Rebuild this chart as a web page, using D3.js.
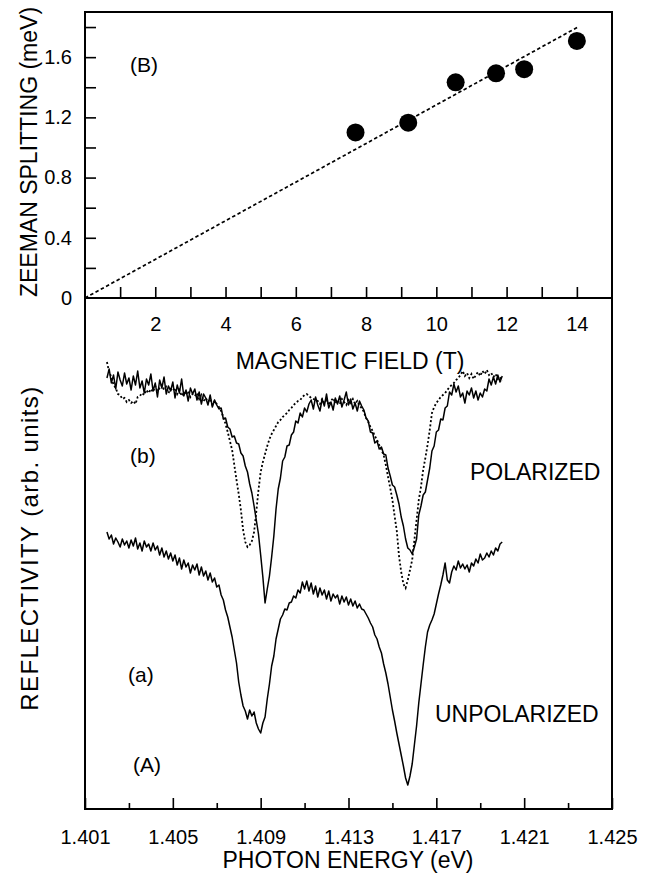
<!DOCTYPE html>
<html>
<head>
<meta charset="utf-8">
<script src="https://cdn.jsdelivr.net/npm/d3@7"></script>
<style>
  html, body { margin: 0; padding: 0; background: #fff; }
  svg { display: block; font-family: "Liberation Sans", Arial, Helvetica, sans-serif; }
</style>
</head>
<body>
<svg id="chart" width="652" height="874"></svg>
<script>
// ---------- Panel B: Zeeman splitting vs magnetic field ----------
const fieldT = [7.7, 9.2, 10.55, 11.7, 12.5, 14.0];
const splittingMeV = [1.10, 1.165, 1.433, 1.493, 1.52, 1.708];
const fitLine = [[0, 0], [14.03, 1.80]];
const fieldTicksMajor = [2, 4, 6, 8, 10, 12, 14];
const fieldTicksAll = [1,2,3,4,5,6,7,8,9,10,11,12,13,14];
const splitTicksMajor = [0, 0.4, 0.8, 1.2, 1.6];
const splitTicksAll = [0, 0.2, 0.4, 0.6, 0.8, 1.0, 1.2, 1.4, 1.6, 1.8];

// ---------- Panel A: reflectivity spectra ----------
const energyEV = [
1.4020,1.4021,1.4022,1.4023,1.4024,1.4025,1.4026,1.4027,1.4028,1.4029,
1.4030,1.4031,1.4032,1.4033,1.4034,1.4035,1.4036,1.4037,1.4038,1.4039,
1.4040,1.4041,1.4042,1.4043,1.4044,1.4045,1.4046,1.4047,1.4048,1.4049,
1.4050,1.4051,1.4052,1.4053,1.4054,1.4055,1.4056,1.4057,1.4058,1.4059,
1.4060,1.4061,1.4062,1.4063,1.4064,1.4065,1.4066,1.4067,1.4068,1.4069,
1.4070,1.4071,1.4072,1.4073,1.4074,1.4075,1.4076,1.4077,1.4078,1.4079,
1.4080,1.4081,1.4082,1.4083,1.4084,1.4085,1.4086,1.4087,1.4088,1.4089,
1.4090,1.4091,1.4092,1.4093,1.4094,1.4095,1.4096,1.4097,1.4098,1.4099,
1.4100,1.4101,1.4102,1.4103,1.4104,1.4105,1.4106,1.4107,1.4108,1.4109,
1.4110,1.4111,1.4112,1.4113,1.4114,1.4115,1.4116,1.4117,1.4118,1.4119,
1.4120,1.4121,1.4122,1.4123,1.4124,1.4125,1.4126,1.4127,1.4128,1.4129,
1.4130,1.4131,1.4132,1.4133,1.4134,1.4135,1.4136,1.4137,1.4138,1.4139,
1.4140,1.4141,1.4142,1.4143,1.4144,1.4145,1.4146,1.4147,1.4148,1.4149,
1.4150,1.4151,1.4152,1.4153,1.4154,1.4155,1.4156,1.4157,1.4158,1.4159,
1.4160,1.4161,1.4162,1.4163,1.4164,1.4165,1.4166,1.4167,1.4168,1.4169,
1.4170,1.4171,1.4172,1.4173,1.4174,1.4175,1.4176,1.4177,1.4178,1.4179,
1.4180,1.4181,1.4182,1.4183,1.4184,1.4185,1.4186,1.4187,1.4188,1.4189,
1.4190,1.4191,1.4192,1.4193,1.4194,1.4195,1.4196,1.4197,1.4198,1.4199,
1.4200];

// (b) polarized, solid trace (arb. units)
const polarizedSolid = [
431,440,426,434,420,437,429,423,436,425,
431,419,433,424,438,421,428,416,430,424,
435,418,426,412,429,421,432,415,423,418,
427,411,424,416,430,413,419,408,421,415,
420,409,417,405,415,411,404,414,402,409,
404,400,401,390,391,382,380,372,373,366,
365,356,353,343,337,325,316,303,289,275,
254,232,206,220,233,252,273,300,320,331,
348,352,363,364,374,377,388,386,396,392,
401,397,405,409,400,412,404,398,410,403,
415,401,407,399,411,405,413,402,409,417,
404,410,400,406,398,408,403,399,391,388,
377,376,366,368,360,362,355,354,341,333,
324,322,314,305,292,283,270,261,259,255,
262,270,294,303,314,317,329,341,358,363,
377,379,390,389,401,403,417,414,425,417,
423,412,416,406,418,414,421,411,418,409,
416,412,420,418,430,424,432,425,434,427,
433];

// (b) polarized, dotted trace (arb. units)
const polarizedDotted = [
447,437,432,424,421,415,414,410,411,407,
409,406,408,405,412,413,416,414,419,416,
420,417,423,418,421,424,419,422,416,420,
418,421,415,419,413,417,414,418,412,415,
413,416,410,414,408,411,407,410,404,408,
405,402,398,392,385,377,368,359,344,329,
315,299,279,267,262,264,268,277,297,319,
337,347,355,363,370,375,379,383,387,389,
392,394,396,399,401,404,406,408,409,412,
414,415,413,411,410,409,408,405,410,406,
409,404,408,411,406,409,405,410,407,404,
409,406,410,405,408,403,401,397,391,387,
382,378,373,369,364,359,354,344,332,321,
309,293,278,253,237,225,221,229,239,249,
269,289,309,322,339,351,364,379,396,402,
406,409,412,414,416,419,422,424,426,429,
431,434,438,433,436,431,435,430,434,437,
433,438,435,439,434,436,432,435,430,432,
428];

// (a) unpolarized trace (arb. units)
const unpolarized = [
277,270,274,265,271,267,262,270,264,268,
261,269,263,271,260,266,258,268,262,265,
258,266,259,263,254,261,252,258,250,256,
248,254,244,251,240,249,242,246,236,244,
239,245,234,242,233,238,229,236,227,231,
222,224,214,209,199,192,182,172,159,146,
127,114,103,98,90,99,93,97,86,80,
76,86,92,110,125,143,153,170,180,190,
194,200,199,206,207,213,211,219,216,227,
220,228,218,226,215,223,212,221,214,219,
210,218,208,215,211,214,205,213,207,212,
204,210,203,208,201,205,200,199,195,191,
186,182,174,170,162,156,145,136,125,112,
99,88,76,65,54,43,31,24,33,45,
64,83,106,125,144,162,177,184,189,195,
205,215,224,234,246,229,226,237,243,239,
248,241,245,240,244,237,246,243,250,246,
255,249,251,256,252,258,254,261,258,265,
267];

const energyTicksMajor = [1.401, 1.405, 1.409, 1.413, 1.417, 1.421, 1.425];
const energyTicksMinor = [1.403, 1.407, 1.411, 1.415, 1.419, 1.423];

// ---------- Layout ----------
const svg = d3.select("#chart");
const L = 85, R = 612, TOP = 12, MID = 298, BOT = 809;

const xB = d3.scaleLinear().domain([0, 15]).range([L, R]);
const yB = d3.scaleLinear().domain([0, 1.9]).range([MID, TOP]);
const xA = d3.scaleLinear().domain([1.401, 1.425]).range([L, R]);
const yA = d3.scaleLinear().domain([0, 511]).range([BOT, MID]);

const tickFont = 20, titleFont = 23, annFont = 21;

// ---------- Top panel axes ----------
const gyB = svg.append("g").attr("transform", `translate(${L},0)`)
  .call(d3.axisLeft(yB).tickValues(splitTicksAll).tickSize(-11).tickPadding(13)
    .tickFormat(d => splitTicksMajor.some(m => Math.abs(m - d) < 1e-9) ? d3.format("")(+d.toFixed(1)) : ""));
gyB.select(".domain").remove();
gyB.selectAll("line").attr("stroke", "#000").attr("stroke-width", 1.6);
gyB.selectAll("text").attr("font-size", tickFont).attr("fill", "#000").attr("font-family", null);
gyB.selectAll(".tick").filter(d => d === 0).select("line").remove();

const gxB = svg.append("g").attr("transform", `translate(0,${MID})`)
  .call(d3.axisBottom(xB).tickValues(fieldTicksAll).tickSize(-11).tickPadding(19)
    .tickFormat(d => fieldTicksMajor.includes(d) ? d : ""));
gxB.select(".domain").remove();
gxB.selectAll("line").attr("stroke", "#000").attr("stroke-width", 1.6);
gxB.selectAll("text").attr("font-size", tickFont).attr("fill", "#000").attr("font-family", null);

// ---------- Bottom panel axes ----------
const gxA = svg.append("g").attr("transform", `translate(0,${BOT})`)
  .call(d3.axisBottom(xA).tickValues(energyTicksMajor).tickSize(-11).tickPadding(21)
    .tickFormat(d3.format(".3f")));
gxA.select(".domain").remove();
gxA.selectAll("line").attr("stroke", "#000").attr("stroke-width", 1.6);
gxA.selectAll("text").attr("font-size", tickFont).attr("fill", "#000").attr("font-family", null);

const gxAm = svg.append("g").attr("transform", `translate(0,${BOT})`)
  .call(d3.axisBottom(xA).tickValues(energyTicksMinor).tickSize(-6).tickFormat(""));
gxAm.select(".domain").remove();
gxAm.selectAll("line").attr("stroke", "#000").attr("stroke-width", 1.6);

// ---------- Frames ----------
svg.append("rect").attr("x", L).attr("y", TOP).attr("width", R - L).attr("height", MID - TOP)
  .attr("fill", "none").attr("stroke", "#000").attr("stroke-width", 2);
svg.append("rect").attr("x", L).attr("y", MID).attr("width", R - L).attr("height", BOT - MID)
  .attr("fill", "none").attr("stroke", "#000").attr("stroke-width", 2);

// ---------- Top panel marks ----------
svg.append("path")
  .attr("d", d3.line().x(d => xB(d[0])).y(d => yB(d[1]))(fitLine))
  .attr("fill", "none").attr("stroke", "#000").attr("stroke-width", 1.7)
  .attr("stroke-dasharray", "3.5,2.5");

svg.append("g").selectAll("circle")
  .data(fieldT.map((f, i) => [f, splittingMeV[i]]))
  .join("circle")
  .attr("cx", d => xB(d[0])).attr("cy", d => yB(d[1])).attr("r", 9).attr("fill", "#000");

// ---------- Bottom panel curves ----------
const lineA = d3.line().x(d => xA(d[0])).y(d => yA(d[1]));
function series(vals) { return vals.map((v, i) => [energyEV[i], v]); }

svg.append("path").attr("d", lineA(series(unpolarized)))
  .attr("fill", "none").attr("stroke", "#000").attr("stroke-width", 1.5).attr("stroke-linejoin", "round");
svg.append("path").attr("d", lineA(series(polarizedDotted)))
  .attr("fill", "none").attr("stroke", "#000").attr("stroke-width", 1.8).attr("stroke-dasharray", "2,2.2");
svg.append("path").attr("d", lineA(series(polarizedSolid)))
  .attr("fill", "none").attr("stroke", "#000").attr("stroke-width", 1.5).attr("stroke-linejoin", "round");

// ---------- Titles and annotations ----------
function txt(x, y, s, size, anchor) {
  return svg.append("text").attr("x", x).attr("y", y).attr("font-size", size)
    .attr("text-anchor", anchor || "start").attr("fill", "#000").text(s);
}
svg.append("text").attr("transform", "translate(37,152) rotate(-90)")
  .attr("text-anchor", "middle").attr("font-size", titleFont).text("ZEEMAN SPLITTING (meV)");
svg.append("text").attr("transform", "translate(38,548) rotate(-90)")
  .attr("text-anchor", "middle").attr("font-size", 24).attr("letter-spacing", 1.4)
  .text("REFLECTIVITY (arb. units)");
txt(350, 369, "MAGNETIC FIELD (T)", titleFont, "middle");
txt(348, 868, "PHOTON ENERGY (eV)", titleFont, "middle");
txt(130, 72, "(B)", annFont);
txt(130, 463, "(b)", annFont);
txt(128, 682, "(a)", annFont);
txt(133, 772, "(A)", annFont);
txt(470, 480, "POLARIZED", titleFont);
txt(435, 722, "UNPOLARIZED", titleFont);
</script>
</body>
</html>
